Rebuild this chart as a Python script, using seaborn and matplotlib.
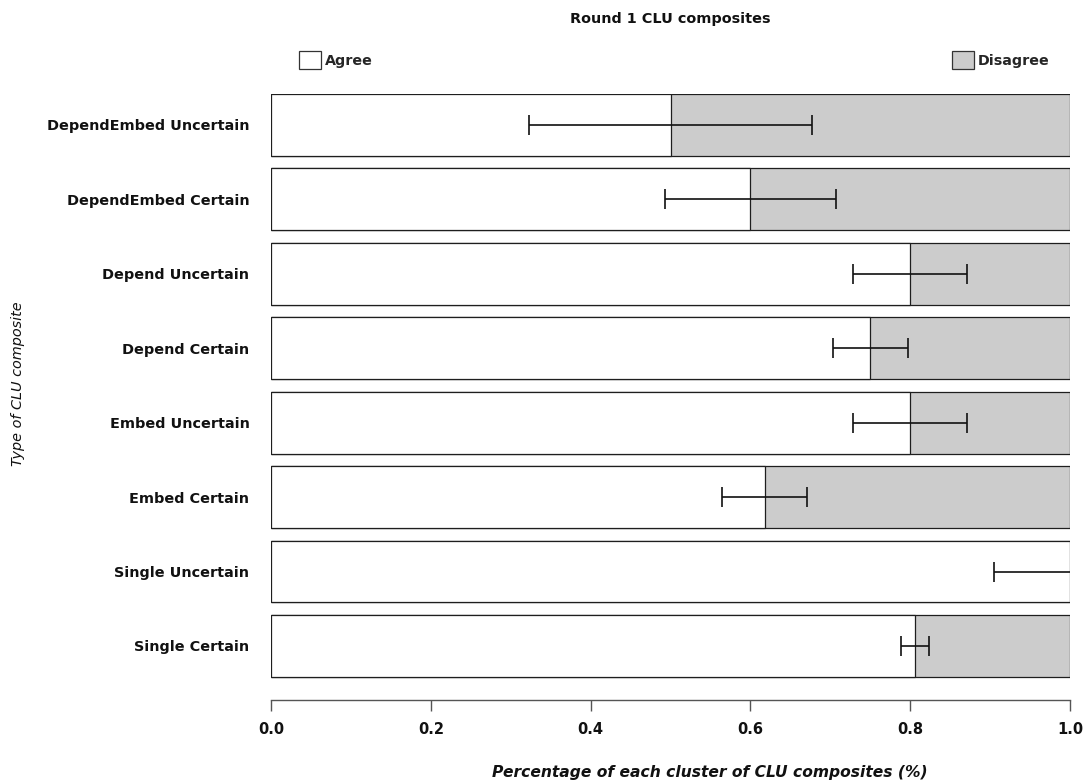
import matplotlib
matplotlib.use("Agg")
import matplotlib.pyplot as plt
import seaborn as sns
import pandas as pd
import numpy as np
from matplotlib.patches import Patch

# Round 1 CLU composite clusters (top to bottom)
categories = [
    "DependEmbed Uncertain",
    "DependEmbed Certain",
    "Depend Uncertain",
    "Depend Certain",
    "Embed Uncertain",
    "Embed Certain",
    "Single Uncertain",
    "Single Certain",
]
agree = [0.50, 0.60, 0.80, 0.75, 0.80, 0.618, 1.00, 0.806]
disagree = [0.50, 0.40, 0.20, 0.25, 0.20, 0.382, 0.00, 0.194]
agree_err = [0.177, 0.107, 0.071, 0.047, 0.071, 0.053, 0.095, 0.017]
x_ticks = [0.0, 0.2, 0.4, 0.6, 0.8, 1.0]
x_tick_labels = ["0.0", "0.2", "0.4", "0.6", "0.8", "1.0"]

df = pd.DataFrame({
    "composite": categories,
    "agree": agree,
    "disagree": disagree,
    "err": agree_err,
})
df["total"] = df["agree"] + df["disagree"]

sns.set_theme(style="white")
plt.rcParams["font.family"] = ["DejaVu Sans"]

W, H = 1088, 780
fig = plt.figure(figsize=(W / 100, H / 100), dpi=100)
ax = fig.add_axes([271 / W, (H - 699.5) / H, 799 / W, 605.5 / H])

edge = "#1e1e1e"
bar_w = 0.833

# Disagree share fills the whole bar; agree share is laid over it from zero
sns.barplot(data=df, x="total", y="composite", order=categories,
            color="#cccccc", saturation=1, edgecolor=edge, linewidth=0.9,
            width=bar_w, errorbar=None, ax=ax)
sns.barplot(data=df, x="agree", y="composite", order=categories,
            color="white", saturation=1, edgecolor=edge, linewidth=0.9,
            width=bar_w, errorbar=None, ax=ax)

ax.errorbar(df["agree"], np.arange(len(categories)), xerr=df["err"],
            fmt="none", ecolor="#111111", elinewidth=1.2, capsize=7.5,
            capthick=1.2, zorder=5)

ax.set_xlim(0, 1)
ax.set_ylim(7.72, -0.4165)
ax.set_xticks(x_ticks)
ax.set_xticklabels(x_tick_labels)
ax.set_xlabel("")
ax.set_ylabel("")

for side in ("left", "top", "right"):
    ax.spines[side].set_visible(False)
ax.spines["bottom"].set_color("#555555")
ax.spines["bottom"].set_linewidth(1.0)

ax.tick_params(axis="x", bottom=True, length=7.9, width=1.0, color="#555555",
               pad=8, labelsize=10.5)
ax.tick_params(axis="y", left=False, pad=9.5, labelsize=10.4)
for lab in ax.get_xticklabels() + ax.get_yticklabels():
    lab.set_fontweight("bold")
    lab.set_color("#111111")

fig.text(670 / W, 1 - 19 / H, "Round 1 CLU composites", ha="center",
         va="center", fontsize=10.4, fontweight="bold", color="#111111")
fig.text(710 / W, 1 - 772 / H, "Percentage of each cluster of CLU composites (%)",
         ha="center", va="center", fontsize=11.2, fontweight="bold",
         fontstyle="italic", color="#111111")
fig.text(18 / W, 1 - 384 / H, "Type of CLU composite", ha="center",
         va="center", rotation=90, fontsize=10.4, fontstyle="italic",
         color="#111111")

leg_kw = dict(loc="center left", frameon=False, borderpad=0, borderaxespad=0,
              handlelength=1.54, handleheight=1.47, handletextpad=0.25,
              prop={"size": 10.3, "weight": "bold"})
leg_agree = fig.legend(handles=[Patch(facecolor="white", edgecolor="#333333",
                                      linewidth=0.9, label="Agree")],
                       bbox_to_anchor=(299 / W, 1 - 60 / H), **leg_kw)
leg_dis = fig.legend(handles=[Patch(facecolor="#cccccc", edgecolor="#333333",
                                    linewidth=0.9, label="Disagree")],
                     bbox_to_anchor=(952 / W, 1 - 60 / H), **leg_kw)

fig.savefig("out.png", dpi=100)
